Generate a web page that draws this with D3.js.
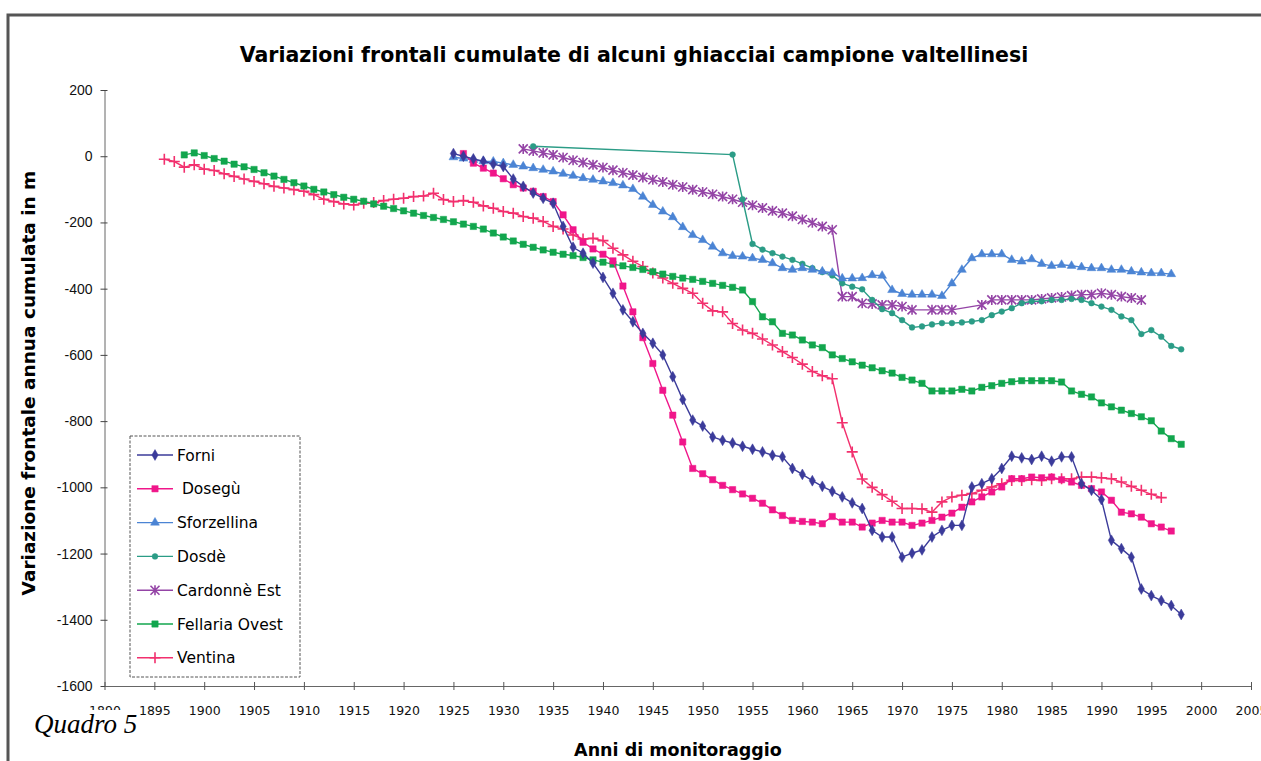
<!DOCTYPE html>
<html>
<head>
<meta charset="utf-8">
<script src="https://cdn.jsdelivr.net/npm/d3@7"></script>
<style>
  body { margin: 0; background: #fff; }
  svg { display: block; }
</style>
</head>
<body>
<div id="chart"></div>
<script>
// Tick values for both axes
const yearTicks = [1890, 1895, 1900, 1905, 1910, 1915, 1920, 1925, 1930, 1935, 1940, 1945, 1950, 1955, 1960, 1965, 1970, 1975, 1980, 1985, 1990, 1995, 2000, 2005];
const valueTicks = [200, 0, -200, -400, -600, -800, -1000, -1200, -1400, -1600];

// Series data: [year, cumulated frontal variation in m]
const forni = [[1925, 8], [1926, 0], [1927, -8], [1928, -15], [1929, -24], [1930, -31], [1931, -69], [1932, -91], [1933, -111], [1934, -127], [1935, -142], [1936, -212], [1937, -275], [1938, -293], [1939, -323], [1940, -366], [1941, -414], [1942, -464], [1943, -500], [1944, -535], [1945, -565], [1946, -600], [1947, -666], [1948, -735], [1949, -797], [1950, -815], [1951, -848], [1952, -858], [1953, -866], [1954, -876], [1955, -885], [1956, -893], [1957, -903], [1958, -908], [1959, -943], [1960, -961], [1961, -980], [1962, -997], [1963, -1012], [1964, -1029], [1965, -1047], [1966, -1064], [1967, -1130], [1968, -1150], [1969, -1150], [1970, -1211], [1971, -1199], [1972, -1189], [1973, -1150], [1974, -1130], [1975, -1115], [1976, -1115], [1977, -999], [1978, -989], [1979, -974], [1980, -943], [1981, -906], [1982, -911], [1983, -916], [1984, -906], [1985, -921], [1986, -908], [1987, -908], [1988, -989], [1989, -1009], [1990, -1037], [1991, -1160], [1992, -1185], [1993, -1211], [1994, -1307], [1995, -1327], [1996, -1342], [1997, -1357], [1998, -1384]];

const dosegu = [[1926, 8], [1927, -21], [1928, -36], [1929, -51], [1930, -68], [1931, -86], [1932, -96], [1933, -106], [1934, -122], [1935, -137], [1936, -177], [1937, -222], [1938, -260], [1939, -280], [1940, -296], [1941, -316], [1942, -392], [1943, -470], [1944, -548], [1945, -626], [1946, -707], [1947, -782], [1948, -863], [1949, -943], [1950, -959], [1951, -977], [1952, -994], [1953, -1007], [1954, -1020], [1955, -1033], [1956, -1048], [1957, -1068], [1958, -1085], [1959, -1100], [1960, -1103], [1961, -1105], [1962, -1110], [1963, -1088], [1964, -1105], [1965, -1105], [1966, -1120], [1967, -1108], [1968, -1100], [1969, -1105], [1970, -1105], [1971, -1115], [1972, -1108], [1973, -1100], [1974, -1090], [1975, -1078], [1976, -1060], [1977, -1044], [1978, -1029], [1979, -1014], [1980, -999], [1981, -974], [1982, -974], [1983, -969], [1984, -971], [1985, -969], [1986, -977], [1987, -984], [1988, -994], [1989, -1004], [1990, -1014], [1991, -1039], [1992, -1075], [1993, -1080], [1994, -1090], [1995, -1110], [1996, -1120], [1997, -1132]];

const sforzellina = [[1925, -3], [1926, -7], [1927, -11], [1928, -15], [1929, -16], [1930, -21], [1931, -26], [1932, -31], [1933, -36], [1934, -41], [1935, -46], [1936, -53], [1937, -59], [1938, -66], [1939, -71], [1940, -76], [1941, -81], [1942, -88], [1943, -99], [1944, -122], [1945, -147], [1946, -167], [1947, -184], [1948, -214], [1949, -238], [1950, -253], [1951, -273], [1952, -293], [1953, -301], [1954, -303], [1955, -308], [1956, -313], [1957, -323], [1958, -338], [1959, -343], [1960, -338], [1961, -343], [1962, -348], [1963, -352], [1964, -369], [1965, -369], [1966, -368], [1967, -359], [1968, -361], [1969, -404], [1970, -416], [1971, -418], [1972, -418], [1973, -418], [1974, -422], [1975, -384], [1976, -343], [1977, -308], [1978, -296], [1979, -296], [1980, -296], [1981, -313], [1982, -318], [1983, -311], [1984, -325], [1985, -331], [1986, -328], [1987, -331], [1988, -335], [1989, -338], [1990, -338], [1991, -343], [1992, -343], [1993, -348], [1994, -351], [1995, -353], [1996, -353], [1997, -356]];

const dosde = [[1933, 30], [1953, 5], [1954, -130], [1955, -265], [1956, -282], [1957, -293], [1958, -303], [1959, -313], [1960, -325], [1961, -338], [1962, -350], [1963, -360], [1964, -384], [1965, -394], [1966, -402], [1967, -434], [1968, -462], [1969, -474], [1970, -495], [1971, -517], [1972, -514], [1973, -508], [1974, -504], [1975, -504], [1976, -502], [1977, -499], [1978, -495], [1979, -480], [1980, -469], [1981, -459], [1982, -444], [1983, -438], [1984, -438], [1985, -434], [1986, -434], [1987, -431], [1988, -434], [1989, -444], [1990, -454], [1991, -464], [1992, -484], [1993, -495], [1994, -537], [1995, -525], [1996, -545], [1997, -573], [1998, -583]];

const cardonne = [[1932, 22], [1933, 16], [1934, 10], [1935, 4], [1936, -4], [1937, -12], [1938, -19], [1939, -26], [1940, -34], [1941, -42], [1942, -50], [1943, -57], [1944, -64], [1945, -71], [1946, -78], [1947, -86], [1948, -93], [1949, -101], [1950, -108], [1951, -115], [1952, -122], [1953, -130], [1954, -139], [1955, -148], [1956, -156], [1957, -165], [1958, -172], [1959, -181], [1960, -191], [1961, -201], [1962, -212], [1963, -222], [1964, -424], [1965, -424], [1966, -444], [1967, -446], [1968, -449], [1969, -449], [1970, -454], [1971, -464], [1973, -464], [1974, -464], [1975, -464], [1978, -449], [1979, -434], [1980, -434], [1981, -434], [1982, -434], [1983, -434], [1984, -431], [1985, -428], [1986, -425], [1987, -421], [1988, -418], [1989, -418], [1990, -414], [1991, -418], [1992, -424], [1993, -428], [1994, -434]];

const fellaria = [[1898, 4], [1899, 10], [1900, 2], [1901, -7], [1902, -15], [1903, -24], [1904, -32], [1905, -40], [1906, -50], [1907, -60], [1908, -70], [1909, -80], [1910, -90], [1911, -100], [1912, -108], [1913, -116], [1914, -124], [1915, -130], [1916, -136], [1917, -144], [1918, -151], [1919, -158], [1920, -165], [1921, -172], [1922, -179], [1923, -185], [1924, -191], [1925, -198], [1926, -205], [1927, -212], [1928, -220], [1929, -232], [1930, -244], [1931, -256], [1932, -266], [1933, -275], [1934, -283], [1935, -290], [1936, -296], [1937, -300], [1938, -306], [1939, -313], [1940, -320], [1941, -326], [1942, -331], [1943, -336], [1944, -342], [1945, -349], [1946, -356], [1947, -363], [1948, -368], [1949, -372], [1950, -378], [1951, -384], [1952, -390], [1953, -396], [1954, -404], [1955, -439], [1956, -485], [1957, -500], [1958, -535], [1959, -540], [1960, -555], [1961, -570], [1962, -578], [1963, -600], [1964, -611], [1965, -621], [1966, -631], [1967, -639], [1968, -648], [1969, -655], [1970, -668], [1971, -676], [1972, -686], [1973, -709], [1974, -709], [1975, -709], [1976, -704], [1977, -709], [1978, -698], [1979, -693], [1980, -686], [1981, -681], [1982, -678], [1983, -678], [1984, -678], [1985, -678], [1986, -682], [1987, -709], [1988, -719], [1989, -727], [1990, -745], [1991, -757], [1992, -767], [1993, -777], [1994, -787], [1995, -799], [1996, -830], [1997, -853], [1998, -870]];

const ventina = [[1896, -9], [1897, -16], [1898, -33], [1899, -26], [1900, -39], [1901, -43], [1902, -53], [1903, -61], [1904, -69], [1905, -76], [1906, -83], [1907, -91], [1908, -96], [1909, -101], [1910, -106], [1911, -116], [1912, -130], [1913, -137], [1914, -144], [1915, -147], [1916, -142], [1917, -140], [1918, -134], [1919, -130], [1920, -127], [1921, -122], [1922, -120], [1923, -112], [1924, -131], [1925, -137], [1926, -134], [1927, -139], [1928, -150], [1929, -157], [1930, -167], [1931, -172], [1932, -182], [1933, -187], [1934, -197], [1935, -212], [1936, -220], [1937, -238], [1938, -250], [1939, -248], [1940, -255], [1941, -278], [1942, -298], [1943, -317], [1944, -333], [1945, -353], [1946, -368], [1947, -384], [1948, -399], [1949, -414], [1950, -444], [1951, -467], [1952, -470], [1953, -505], [1954, -525], [1955, -535], [1956, -552], [1957, -570], [1958, -590], [1959, -608], [1960, -628], [1961, -650], [1962, -663], [1963, -672], [1964, -805], [1965, -893], [1966, -975], [1967, -1000], [1968, -1022], [1969, -1042], [1970, -1064], [1971, -1064], [1972, -1065], [1973, -1075], [1974, -1044], [1975, -1029], [1976, -1024], [1977, -1019], [1978, -1009], [1979, -999], [1980, -989], [1981, -979], [1982, -979], [1983, -977], [1984, -979], [1985, -974], [1986, -974], [1987, -974], [1988, -969], [1989, -969], [1990, -971], [1991, -974], [1992, -984], [1993, -997], [1994, -1009], [1995, -1021], [1996, -1031]];

const seriesNames = ["Forni", " Dosegù", "Sforzellina", "Dosdè", "Cardonnè Est", "Fellaria Ovest", "Ventina"];

// Page size and plot box
const W = 1261, H = 761;
const plot = { left: 104.5, right: 1251, top: 90, bottom: 686 };

const svg = d3.select("#chart").append("svg")
  .attr("width", W)
  .attr("height", H);

// Frame round the whole figure
svg.append("rect")
  .attr("x", 8).attr("y", 15)
  .attr("width", W + 20).attr("height", H + 20)
  .attr("fill", "none")
  .attr("stroke", "#555")
  .attr("stroke-width", 3);

const xScale = d3.scaleLinear().domain([1890, 2005]).range([plot.left, plot.right]);
const yScale = d3.scaleLinear().domain([-1600, 200]).range([plot.bottom, plot.top]);

const handFont = "'DejaVu Sans', sans-serif";

// Title
svg.append("text")
  .attr("x", 634).attr("y", 62)
  .attr("text-anchor", "middle")
  .style("font-family", handFont)
  .style("font-weight", "bold")
  .style("font-size", "20.5px")
  .text("Variazioni frontali cumulate di alcuni ghiacciai campione valtellinesi");

// Y axis (ticks cross the line); plain hyphen for the minus sign
const yAxis = d3.axisLeft(yScale).tickValues(valueTicks).tickFormat(d => String(d)).tickSize(0).tickPadding(12);
const yG = svg.append("g")
  .attr("transform", `translate(${plot.left},0)`)
  .call(yAxis);
yG.select(".domain").attr("stroke", "#666");
yG.selectAll("text")
  .style("font-family", "'Liberation Sans', Arial, sans-serif")
  .style("font-size", "14px")
  .attr("fill", "#111");
yG.selectAll(".tick").append("line")
  .attr("x1", -4).attr("x2", 3)
  .attr("stroke", "#444");

// X axis
const xAxis = d3.axisBottom(xScale).tickValues(yearTicks).tickFormat(d3.format("d")).tickSize(0).tickPadding(20);
const xG = svg.append("g")
  .attr("transform", `translate(0,${plot.bottom})`)
  .call(xAxis);
xG.select(".domain").attr("stroke", "#666");
xG.selectAll("text")
  .style("font-family", handFont)
  .style("font-size", "12.5px")
  .attr("fill", "#111");
xG.selectAll(".tick").append("line")
  .attr("y1", -4).attr("y2", 4)
  .attr("stroke", "#555");

// Axis titles
svg.append("text")
  .attr("transform", `translate(35,383) rotate(-90)`)
  .attr("text-anchor", "middle")
  .style("font-family", handFont)
  .style("font-weight", "bold")
  .style("font-size", "18.5px")
  .text("Variazione frontale annua cumulata in m");

svg.append("text")
  .attr("x", 678).attr("y", 756)
  .attr("text-anchor", "middle")
  .style("font-family", handFont)
  .style("font-weight", "bold")
  .style("font-size", "17.5px")
  .text("Anni di monitoraggio");

// "Quadro 5" covers the 1890 label partly
svg.append("rect")
  .attr("x", 26).attr("y", 710)
  .attr("width", 110).attr("height", 34)
  .attr("fill", "#fff");
svg.append("text")
  .attr("x", 34).attr("y", 733)
  .style("font-family", "'Liberation Serif', 'Times New Roman', serif")
  .style("font-style", "italic")
  .style("font-size", "27px")
  .text("Quadro 5");

// Marker shapes
const diamond = d3.symbol().type(d3.symbolDiamond).size(34)();
const square = d3.symbol().type(d3.symbolSquare).size(40)();
const triangle = d3.symbol().type(d3.symbolTriangle).size(34)();
const circle = d3.symbol().type(d3.symbolCircle).size(26)();
const asterisk = "M-4.5,-4.5L4.5,4.5M-4.5,4.5L4.5,-4.5M0,-5V5";
const plus = "M-5.5,0H5.5M0,-5.5V5.5";

const series = [
  { name: seriesNames[0], data: forni, color: "#3b3b9a", marker: diamond, filled: true },
  { name: seriesNames[1], data: dosegu, color: "#f0168a", marker: square, filled: true },
  { name: seriesNames[2], data: sforzellina, color: "#4b84d4", marker: triangle, filled: true },
  { name: seriesNames[3], data: dosde, color: "#2b9c86", marker: circle, filled: true },
  { name: seriesNames[4], data: cardonne, color: "#9444a6", marker: asterisk, filled: false },
  { name: seriesNames[5], data: fellaria, color: "#12a64e", marker: square, filled: true },
  { name: seriesNames[6], data: ventina, color: "#f2306e", marker: plus, filled: false }
];

const line = d3.line()
  .x(d => xScale(d[0]))
  .y(d => yScale(d[1]));

// Draw in reverse so Forni ends up on top
series.slice().reverse().forEach(s => {
  const g = svg.append("g");
  g.append("path")
    .datum(s.data)
    .attr("d", line)
    .attr("fill", "none")
    .attr("stroke", s.color)
    .attr("stroke-width", 1.4);

  g.selectAll("path.mark")
    .data(s.data)
    .enter()
    .append("path")
    .attr("class", "mark")
    .attr("d", s.marker)
    .attr("transform", d => `translate(${xScale(d[0])},${yScale(d[1])})`)
    .attr("fill", s.filled ? s.color : "none")
    .attr("stroke", s.color)
    .attr("stroke-width", s.filled ? 0.5 : 1.6);
});

// Legend
const legend = svg.append("g");
legend.append("rect")
  .attr("x", 130).attr("y", 436)
  .attr("width", 170).attr("height", 241)
  .attr("fill", "#fff")
  .attr("stroke", "#555")
  .attr("stroke-dasharray", "3,1.5")
  .attr("stroke-width", 1);

series.forEach((s, i) => {
  const ly = 455 + i * 33.8;
  legend.append("line")
    .attr("x1", 137).attr("x2", 173)
    .attr("y1", ly).attr("y2", ly)
    .attr("stroke", s.color)
    .attr("stroke-width", 1.4);
  legend.append("path")
    .attr("d", s.marker)
    .attr("transform", `translate(155,${ly})`)
    .attr("fill", s.filled ? s.color : "none")
    .attr("stroke", s.color)
    .attr("stroke-width", s.filled ? 0.5 : 1.6);
  legend.append("text")
    .attr("x", 177).attr("y", ly + 5.5)
    .style("font-family", handFont)
    .style("font-size", "15.5px")
    .style("white-space", "pre")
    .attr("xml:space", "preserve")
    .text(s.name);
});
</script>
</body>
</html>
